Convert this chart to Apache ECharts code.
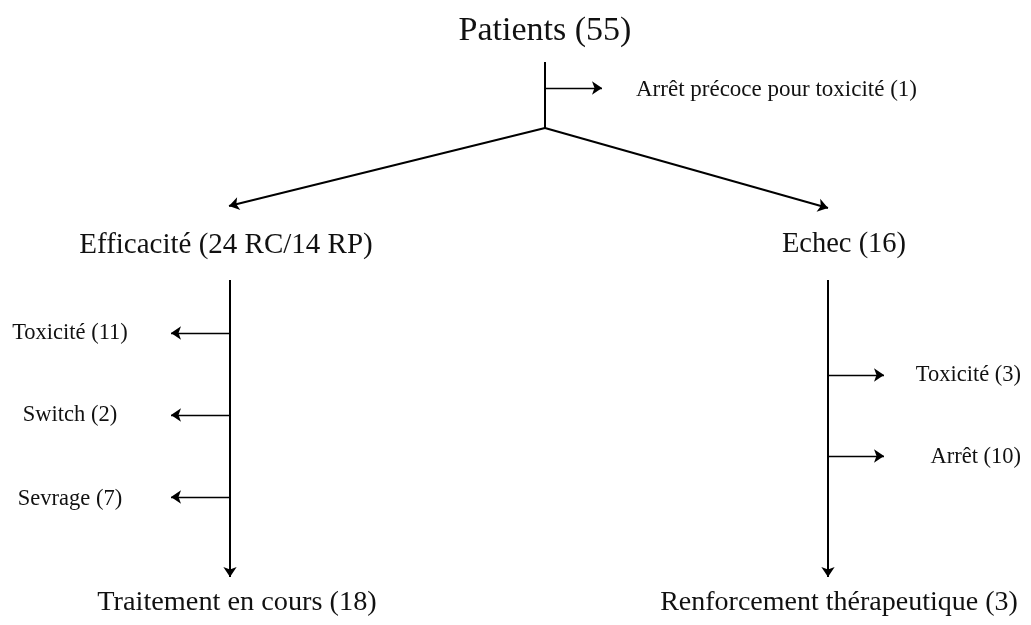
<!DOCTYPE html>
<html>
<head>
<meta charset="utf-8">
<script src="https://cdn.jsdelivr.net/npm/echarts@6/dist/echarts.min.js"></script>
<style>
  html, body { margin: 0; padding: 0; background: #fff; }
  #main { width: 1031px; height: 625px; }
</style>
</head>
<body>
<div id="main"></div>
<script>
var myChart = echarts.init(document.getElementById('main'));

// flowchart boxes: name and patient count
var stepNames = ['Patients', 'Arrêt précoce pour toxicité', 'Efficacité', 'Echec',
    'Toxicité', 'Switch', 'Sevrage', 'Traitement en cours',
    'Toxicité', 'Arrêt', 'Renforcement thérapeutique'];
var stepCounts = ['55', '1', '24 RC/14 RP', '16', '11', '2', '7', '18', '3', '10', '3'];

// layout of the diagram (pixels, y downwards)
var stepPos = [[545, 31], [636, 90], [226, 245], [844, 245],
    [70, 333], [70, 415], [70, 499], [237, 603],
    [1021, 375], [1021, 457], [839, 603]];
var stepSize = [34, 23, 29, 28.5, 22.5, 22.5, 22.5, 28.3, 22.5, 22.5, 28];
var stepAlign = ['center', 'left', 'center', 'center', 'center', 'center', 'center', 'center', 'right', 'right', 'center'];

// hidden junction points the arrows run through
var joints = {
    top: [545, 62], early: [545, 88], earlyEnd: [602, 88], split: [545, 128],
    effEnd: [229, 206], failEnd: [828, 208],
    L0: [230, 280], L1: [230, 333], L2: [230, 415], L3: [230, 497], L4: [230, 577],
    L1e: [171, 333], L2e: [171, 415], L3e: [171, 497],
    R0: [828, 280], R1: [828, 375], R2: [828, 456], R3: [828, 577],
    R1e: [884, 375], R2e: [884, 456]
};
// [from, to, arrow?]
var links = [
    ['top', 'split', 0], ['early', 'earlyEnd', 1],
    ['split', 'effEnd', 1], ['split', 'failEnd', 1],
    ['L0', 'L4', 1], ['L1', 'L1e', 1], ['L2', 'L2e', 1], ['L3', 'L3e', 1],
    ['R0', 'R3', 1], ['R1', 'R1e', 1], ['R2', 'R2e', 1]
];

var nodes = [];
stepNames.forEach(function (n, i) {
    nodes.push({
        name: 's' + i,
        value: stepPos[i],
        symbolSize: 0,
        label: {
            show: true,
            position: [0, 0],
            align: stepAlign[i],
            verticalAlign: 'middle',
            fontSize: stepSize[i],
            fontFamily: 'Liberation Serif',
            color: '#111',
            formatter: n + ' (' + stepCounts[i] + ')'
        }
    });
});
Object.keys(joints).forEach(function (k) {
    nodes.push({ name: k, value: joints[k], symbolSize: 0, label: { show: false } });
});

var edges = links.map(function (l) {
    var main = l[0] === 'top' || l[0] === 'split' || l[0] === 'L0' || l[0] === 'R0';
    return {
        source: l[0],
        target: l[1],
        symbol: ['none', l[2] ? 'arrow' : 'none'],
        symbolSize: [0, 10],
        lineStyle: { color: '#000', width: main ? 2 : 1.4, opacity: 1 }
    };
});

option = {
    backgroundColor: '#fff',
    animation: false,
    grid: { left: 0, right: 0, top: 0, bottom: 0 },
    xAxis: { type: 'value', min: 0, max: 1031, show: false },
    yAxis: { type: 'value', min: 0, max: 625, inverse: true, show: false },
    series: [{
        type: 'graph',
        layout: 'none',
        coordinateSystem: 'cartesian2d',
        silent: true,
        data: nodes,
        links: edges
    }]
};

myChart.setOption(option);
onresize = myChart.resize;
</script>
</body>
</html>
